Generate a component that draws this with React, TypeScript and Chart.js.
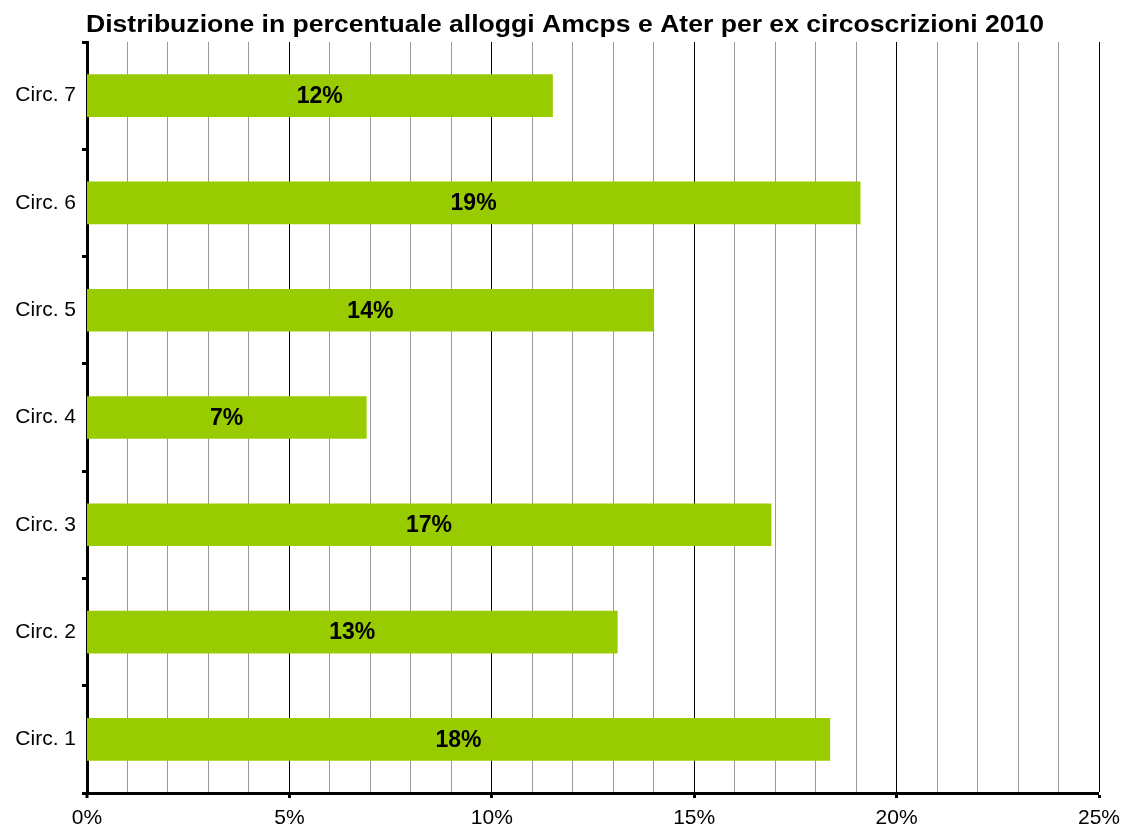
import React, { useEffect, useRef } from "react";
import { Chart, registerables } from "chart.js";

Chart.register(...registerables);

const categories = ["Circ. 7", "Circ. 6", "Circ. 5", "Circ. 4", "Circ. 3", "Circ. 2", "Circ. 1"];
const values = [11.5, 19.1, 14.0, 6.9, 16.9, 13.1, 18.35];
const valueLabels = ["12%", "19%", "14%", "7%", "17%", "13%", "18%"];
const xTickValues = [0, 5, 10, 15, 20, 25];
const titleText = "Distribuzione in percentuale alloggi Amcps e Ater per ex circoscrizioni 2010";

const FONT = "'Liberation Sans', Arial, sans-serif";

const labelPlugin = {
  id: "barLabels",
  afterDatasetsDraw(chart: any) {
    const ctx = chart.ctx;
    const meta = chart.getDatasetMeta(0);
    ctx.save();
    ctx.font = `bold 23px ${FONT}`;
    ctx.fillStyle = "#000";
    ctx.textAlign = "center";
    ctx.textBaseline = "middle";
    meta.data.forEach((bar: any, i: number) => {
      const x = (bar.base + bar.x) / 2;
      ctx.fillText(valueLabels[i], x, bar.y + 1);
    });
    ctx.restore();
  },
};

const titlePlugin = {
  id: "customTitle",
  afterDraw(chart: any) {
    const ctx = chart.ctx;
    ctx.save();
    ctx.font = `bold 23px ${FONT}`;
    ctx.fillStyle = "#000";
    ctx.textBaseline = "middle";
    const w = ctx.measureText(titleText).width;
    const target = 958;
    const sx = target / w;
    ctx.translate(86, 26);
    ctx.scale(sx, 1);
    ctx.textAlign = "left";
    ctx.fillText(titleText, 0, 0);
    ctx.restore();
  },
};

export default function App() {
  const ref = useRef<HTMLCanvasElement>(null);
  useEffect(() => {
    if (!ref.current) return;
    const chart = new Chart(ref.current, {
      type: "bar",
      data: {
        labels: categories,
        datasets: [
          {
            data: values,
            backgroundColor: "#99cc00",
            borderWidth: 0,
            barThickness: 42,
          },
        ],
      },
      options: {
        indexAxis: "y",
        animation: false,
        responsive: false,
        devicePixelRatio: 1,
        layout: { padding: { top: 42, right: 23, left: 0, bottom: 0 } },
        plugins: {
          legend: { display: false },
          tooltip: { enabled: false },
          title: { display: false },
        },
        scales: {
          x: {
            min: 0,
            max: 25,
            afterBuildTicks: (scale: any) => {
              const t = [];
              for (let v = 0; v <= 25; v++) t.push({ value: v });
              scale.ticks = t;
            },
            afterFit: (scale: any) => {
              scale.height = 39;
              scale.paddingLeft = 0;
              scale.paddingRight = 0;
            },
            ticks: {
              autoSkip: false,
              maxRotation: 0,
              color: "#000",
              font: { family: FONT, size: 21 },
              padding: 8,
              callback: (v: any) => (xTickValues.includes(Number(v)) ? `${v}%` : ""),
            },
            grid: {
              color: (c: any) => (c.tick && c.tick.value % 5 === 0 ? "#000" : "#999"),
              lineWidth: (c: any) => (c.tick && c.tick.value === 0 ? 0 : 1),
              tickColor: (c: any) => (c.tick && c.tick.value % 5 === 0 ? "#000" : "rgba(0,0,0,0)"),
              tickWidth: 3,
              tickLength: 5,
              drawTicks: true,
            },
            border: { color: "#000", width: 3 },
          },
          y: {
            afterFit: (scale: any) => {
              scale.width = 87;
              scale.paddingTop = 0;
              scale.paddingBottom = 0;
            },
            ticks: {
              color: "#000",
              font: { family: FONT, size: 21 },
              padding: 6,
            },
            grid: {
              offset: true,
              drawOnChartArea: false,
              tickColor: "#000",
              tickWidth: 3,
              tickLength: 5,
            },
            border: { color: "#000", width: 3 },
          },
        },
      },
      plugins: [labelPlugin, titlePlugin],
    });
    return () => chart.destroy();
  }, []);
  return (
    <div style={{ position: "fixed", left: 0, top: 0, width: 1122, height: 832, background: "#fff" }}>
      <canvas ref={ref} width={1122} height={832} style={{ width: 1122, height: 832 }} />
    </div>
  );
}
